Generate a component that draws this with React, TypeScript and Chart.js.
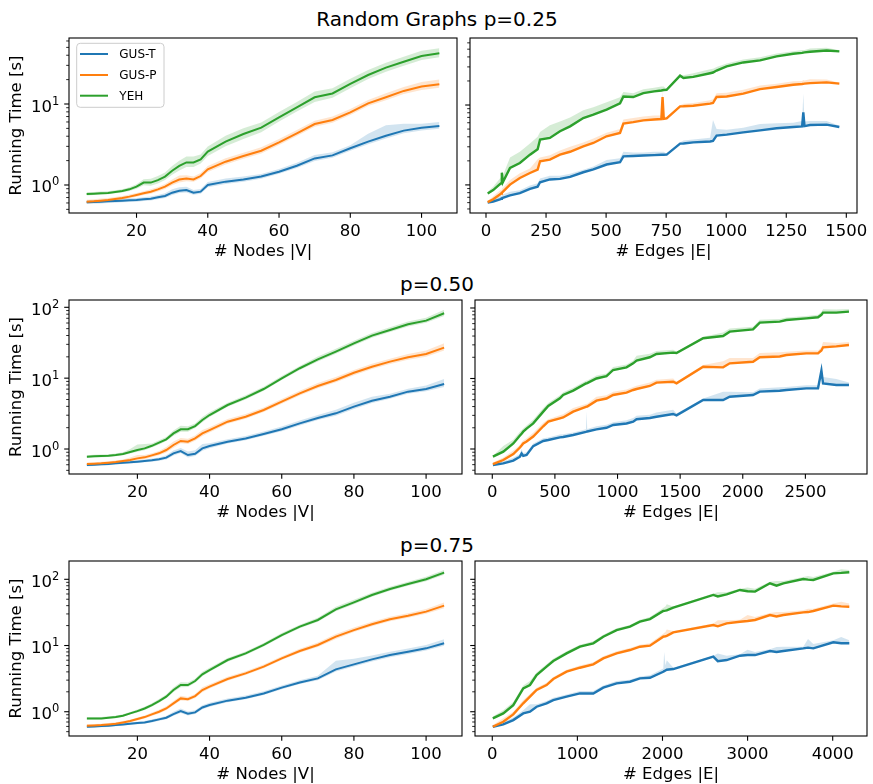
import React, { useEffect, useRef } from "react";
import { Chart, registerables } from "chart.js";

Chart.register(...registerables);

const FONT = "'DejaVu Sans', sans-serif";
const C_T = "#1f77b4";
const C_P = "#ff7f0e";
const C_Y = "#2ca02c";
const B_T = "rgba(31,119,180,0.2)";
const B_P = "rgba(255,127,14,0.2)";
const B_Y = "rgba(44,160,44,0.2)";
const SERIES_NAMES = ["GUS-T", "GUS-P", "YEH"];

// ---------- Node-count panels (x = |V|) ----------
const NODES = [6, 8, 10, 12, 14, 16, 18, 20, 22, 24, 26, 28, 30, 32, 34, 36, 38, 40, 45, 50, 55, 60, 65, 70, 75, 80, 85, 90, 95, 100, 105];

// p = 0.25
const L1_T = [0.611, 0.617, 0.622, 0.628, 0.634, 0.641, 0.647, 0.653, 0.665, 0.678, 0.705, 0.731, 0.803, 0.851, 0.867, 0.803, 0.827, 1.0, 1.1, 1.17, 1.27, 1.46, 1.73, 2.13, 2.32, 2.84, 3.43, 4.06, 4.69, 5.1, 5.35];
const L1_P = [0.622, 0.629, 0.641, 0.653, 0.672, 0.691, 0.718, 0.753, 0.789, 0.827, 0.884, 0.954, 1.07, 1.17, 1.2, 1.17, 1.29, 1.56, 1.94, 2.28, 2.65, 3.36, 4.34, 5.66, 6.35, 7.89, 10.2, 12.1, 14.5, 16.4, 17.5];
const L1_Y = [0.774, 0.782, 0.789, 0.797, 0.82, 0.843, 0.884, 0.954, 1.07, 1.07, 1.15, 1.27, 1.5, 1.72, 1.9, 1.9, 2.07, 2.58, 3.43, 4.26, 5.1, 6.85, 9.1, 12.1, 13.5, 17.7, 22.8, 28.1, 33.3, 39.1, 42.2];
// band widths (percent above / below the mean)
const L1_T_UP = [6, 6, 6, 6, 6, 6, 6, 6, 6, 6, 7, 8, 10, 10, 10, 8, 8, 9, 9, 9, 8, 8, 9, 10, 9, 9, 25, 35, 22, 12, 12];
const L1_T_DN = [5, 5, 5, 5, 5, 5, 5, 5, 5, 5, 6, 6, 7, 7, 7, 6, 6, 7, 7, 7, 6, 6, 7, 8, 7, 7, 8, 8, 8, 8, 8];
const L1_P_UP = [6, 6, 6, 6, 6, 6, 6, 6, 6, 7, 7, 8, 9, 12, 10, 9, 9, 10, 10, 10, 10, 10, 10, 10, 10, 10, 10, 12, 12, 14, 15];
const L1_P_DN = [5, 5, 5, 5, 5, 5, 5, 5, 5, 6, 6, 7, 8, 9, 8, 7, 7, 8, 8, 8, 8, 8, 8, 8, 8, 8, 8, 9, 9, 10, 10];
const L1_Y_UP = [5, 5, 5, 5, 5, 5, 6, 7, 10, 12, 12, 12, 14, 16, 18, 18, 15, 16, 18, 18, 16, 16, 16, 18, 16, 16, 15, 15, 15, 16, 16];
const L1_Y_DN = [4, 4, 4, 4, 4, 4, 5, 6, 8, 9, 10, 10, 12, 14, 14, 14, 12, 13, 14, 15, 14, 13, 13, 14, 13, 13, 12, 12, 12, 12, 12];

// p = 0.50
const L2_T = [0.594, 0.601, 0.608, 0.614, 0.628, 0.641, 0.648, 0.662, 0.677, 0.692, 0.715, 0.755, 0.869, 0.937, 0.823, 0.859, 1.02, 1.1, 1.27, 1.41, 1.63, 1.9, 2.3, 2.74, 3.19, 3.96, 4.81, 5.48, 6.45, 7.03, 8.27];
const L2_P = [0.614, 0.621, 0.628, 0.641, 0.655, 0.677, 0.7, 0.738, 0.763, 0.814, 0.869, 0.968, 1.14, 1.3, 1.27, 1.41, 1.66, 1.85, 2.43, 2.86, 3.55, 4.66, 6.11, 7.75, 9.42, 11.9, 14.5, 17.1, 19.7, 21.9, 27.0];
const L2_Y = [0.779, 0.788, 0.796, 0.805, 0.823, 0.85, 0.907, 0.968, 1.02, 1.11, 1.23, 1.37, 1.66, 1.9, 1.9, 2.11, 2.57, 3.02, 4.18, 5.31, 7.03, 9.95, 13.8, 18.4, 23.7, 31.0, 39.8, 47.9, 57.5, 64.8, 82.3];
const L2_T_UP = [5, 5, 5, 5, 5, 5, 5, 5, 5, 6, 6, 8, 10, 10, 12, 12, 15, 10, 8, 8, 8, 9, 10, 10, 12, 14, 14, 10, 10, 12, 18];
const L2_T_DN = [4, 4, 4, 4, 4, 4, 4, 4, 4, 5, 5, 6, 7, 7, 8, 8, 8, 7, 6, 6, 6, 7, 7, 7, 8, 8, 8, 7, 7, 8, 10];
const L2_P_UP = [5, 5, 5, 5, 5, 5, 8, 12, 8, 7, 8, 10, 12, 10, 10, 10, 12, 10, 9, 9, 9, 9, 9, 10, 10, 10, 10, 10, 11, 12, 15];
const L2_P_DN = [4, 4, 4, 4, 4, 4, 5, 6, 6, 6, 6, 8, 9, 8, 8, 8, 9, 8, 7, 7, 7, 7, 7, 8, 8, 8, 8, 8, 8, 9, 10];
const L2_Y_UP = [5, 5, 5, 5, 5, 6, 10, 20, 15, 8, 8, 8, 10, 12, 10, 9, 10, 9, 8, 8, 8, 8, 8, 10, 10, 9, 9, 9, 10, 10, 12];
const L2_Y_DN = [4, 4, 4, 4, 4, 4, 5, 6, 6, 6, 6, 6, 8, 8, 8, 7, 8, 7, 6, 6, 6, 6, 6, 7, 7, 7, 7, 7, 7, 7, 9];

// p = 0.75
const L3_T = [0.593, 0.6, 0.607, 0.614, 0.629, 0.644, 0.659, 0.674, 0.69, 0.723, 0.766, 0.811, 0.922, 1.02, 0.933, 0.977, 1.16, 1.26, 1.47, 1.63, 1.89, 2.31, 2.77, 3.19, 4.36, 5.19, 6.18, 7.18, 8.07, 9.06, 10.8];
const L3_P = [0.614, 0.621, 0.629, 0.644, 0.659, 0.69, 0.723, 0.775, 0.83, 0.911, 1.0, 1.12, 1.34, 1.59, 1.55, 1.72, 2.13, 2.39, 3.12, 3.8, 4.79, 6.4, 8.26, 10.2, 13.6, 17.1, 20.9, 24.9, 28.2, 32.5, 40.0];
const L3_Y = [0.793, 0.793, 0.793, 0.812, 0.83, 0.87, 0.944, 1.02, 1.12, 1.26, 1.45, 1.69, 2.13, 2.53, 2.53, 2.91, 3.67, 4.26, 6.04, 7.62, 10.2, 14.4, 19.3, 24.3, 35.2, 44.9, 58.0, 71.4, 85.0, 100, 126];
const L3_T_UP = [5, 5, 5, 5, 5, 5, 5, 5, 5, 6, 6, 6, 8, 10, 8, 8, 8, 8, 8, 8, 8, 8, 8, 10, 35, 22, 14, 12, 12, 12, 15];
const L3_T_DN = [4, 4, 4, 4, 4, 4, 4, 4, 4, 5, 5, 5, 6, 7, 6, 6, 6, 6, 6, 6, 6, 6, 6, 7, 8, 8, 8, 8, 8, 8, 9];
const L3_P_UP = [5, 5, 5, 5, 5, 5, 5, 6, 6, 7, 7, 8, 8, 10, 8, 8, 10, 9, 8, 8, 8, 8, 8, 9, 10, 9, 9, 9, 9, 10, 12];
const L3_P_DN = [4, 4, 4, 4, 4, 4, 4, 5, 5, 6, 6, 6, 7, 8, 7, 7, 8, 7, 6, 6, 6, 6, 6, 7, 8, 7, 7, 7, 7, 8, 9];
const L3_Y_UP = [5, 5, 5, 5, 5, 5, 5, 6, 6, 7, 7, 8, 9, 10, 9, 8, 9, 8, 7, 7, 7, 7, 7, 8, 9, 9, 8, 8, 8, 9, 10];
const L3_Y_DN = [4, 4, 4, 4, 4, 4, 4, 5, 5, 6, 6, 6, 7, 8, 7, 6, 7, 6, 6, 6, 6, 6, 6, 6, 7, 7, 6, 6, 6, 7, 8];

// ---------- Edge-count panels (x = |E|) ----------
// p = 0.25
const E1 = [7, 30, 58, 63, 66, 70, 100, 141, 183, 215, 225, 266, 308, 350, 405, 447, 502, 558, 572, 613, 655, 700, 730, 735, 740, 752, 808, 822, 863, 933, 945, 960, 1002, 1071, 1141, 1210, 1279, 1316, 1321, 1326, 1349, 1418, 1471];
const R1_T = [0.6, 0.62, 0.66, 0.67, 0.68, 0.69, 0.74, 0.79, 0.89, 0.95, 1.08, 1.17, 1.19, 1.26, 1.44, 1.56, 1.8, 1.92, 2.28, 2.3, 2.33, 2.36, 2.38, 2.38, 2.38, 2.39, 3.29, 3.3, 3.41, 3.5, 3.55, 4.14, 4.26, 4.55, 4.82, 5.11, 5.31, 5.4, 8.1, 5.45, 5.62, 5.68, 5.31];
const R1_P = [0.61, 0.66, 0.76, 0.78, 0.8, 0.82, 1.01, 1.22, 1.41, 1.55, 1.98, 2.07, 2.39, 2.6, 3.04, 3.35, 4.06, 4.47, 5.84, 6.1, 6.43, 6.6, 6.68, 12.6, 6.7, 6.8, 9.62, 9.65, 9.81, 10.4, 10.6, 12.6, 12.8, 13.9, 15.8, 16.8, 17.9, 18.3, 18.4, 18.5, 18.8, 19.2, 18.5];
const R1_Y = [0.78, 0.86, 1.02, 1.05, 1.42, 1.08, 1.63, 1.88, 2.39, 2.8, 3.69, 3.87, 4.69, 5.41, 6.88, 7.57, 8.74, 10.5, 12.8, 12.6, 14.1, 14.8, 15.2, 15.3, 15.4, 15.5, 23.3, 21.8, 22.5, 25.0, 25.5, 27.0, 30.4, 34.1, 36.2, 40.6, 43.8, 45.0, 45.3, 45.6, 46.4, 48.2, 46.9];
const R1_T_HI = [0.63, 0.66, 0.72, 0.73, 0.74, 0.76, 0.82, 0.86, 0.98, 1.05, 1.2, 1.3, 1.3, 1.38, 1.55, 1.7, 2.05, 2.15, 2.6, 2.55, 2.55, 2.6, 2.6, 2.6, 2.6, 2.45, 3.4, 3.6, 3.7, 3.9, 6.5, 5.0, 4.9, 5.2, 5.8, 5.9, 6.0, 6.3, 13.8, 6.2, 6.3, 6.3, 5.5];
const R1_P_HI = [0.63, 0.72, 0.85, 0.87, 0.9, 0.92, 1.15, 1.4, 1.6, 2.1, 2.2, 2.35, 2.7, 3.0, 3.4, 3.8, 4.5, 5.0, 6.6, 6.9, 7.2, 7.4, 7.4, 15.0, 7.4, 6.95, 9.9, 10.4, 10.6, 11.5, 11.8, 14.0, 14.2, 15.5, 17.5, 18.5, 19.8, 20.0, 20.5, 20.3, 21.0, 20.8, 19.0];
const R1_Y_HI = [0.82, 0.95, 1.2, 1.25, 1.55, 1.3, 2.2, 2.6, 3.3, 4.0, 4.6, 5.6, 6.2, 7.0, 8.6, 9.4, 10.8, 12.5, 14.5, 14.0, 15.8, 16.5, 17.0, 17.0, 17.0, 15.8, 24.0, 23.5, 25.0, 28.0, 28.5, 30.0, 33.0, 37.0, 39.5, 44.0, 47.0, 49.0, 49.0, 49.0, 51.0, 52.0, 48.5];

// p = 0.50
const E2 = [5, 88, 168, 221, 234, 247, 274, 327, 407, 447, 540, 566, 646, 748, 753, 758, 832, 912, 965, 1072, 1125, 1152, 1258, 1311, 1444, 1471, 1684, 1843, 1896, 2082, 2136, 2295, 2348, 2508, 2601, 2628, 2641, 2747, 2848];
const R2_T = [0.593, 0.626, 0.684, 0.778, 0.86, 0.8, 0.822, 1.1, 1.3, 1.34, 1.46, 1.48, 1.58, 1.75, 1.76, 1.77, 1.9, 2.0, 2.19, 2.3, 2.44, 2.64, 2.75, 2.87, 3.14, 3.0, 4.95, 4.95, 5.52, 5.83, 6.51, 6.7, 6.87, 7.25, 7.25, 12.9, 8.54, 8.09, 8.09];
const R2_P = [0.612, 0.698, 0.849, 1.05, 1.12, 1.2, 1.28, 1.5, 2.1, 2.44, 2.72, 2.8, 3.39, 3.95, 3.98, 4.0, 4.85, 5.2, 5.83, 6.3, 6.87, 7.1, 7.83, 8.73, 9.0, 8.54, 14.7, 14.4, 16.4, 17.3, 20.0, 20.5, 21.5, 22.7, 22.7, 25.0, 27.7, 28.5, 29.9];
const R2_Y = [0.778, 0.916, 1.2, 1.55, 1.65, 1.76, 1.95, 2.31, 3.39, 4.07, 5.23, 5.83, 6.72, 8.5, 8.54, 8.6, 10.0, 10.8, 13.2, 14.4, 16.4, 17.9, 20.0, 22.3, 23.3, 23.0, 37.2, 40.1, 46.2, 49.8, 62.0, 64.0, 67.6, 71.3, 73.8, 80.0, 85.9, 85.9, 88.7];
const R2_T_HI = [0.62, 0.67, 0.75, 0.85, 1.0, 0.88, 0.9, 1.2, 1.42, 1.45, 1.6, 1.62, 1.72, 1.9, 3.4, 1.92, 2.1, 2.2, 2.4, 2.55, 2.75, 2.95, 3.05, 3.3, 3.6, 3.2, 5.2, 6.5, 6.5, 6.4, 7.2, 7.5, 7.6, 8.0, 8.0, 14.5, 10.5, 9.8, 8.8];
const R2_P_HI = [0.64, 0.76, 0.95, 1.15, 1.25, 1.32, 1.42, 1.7, 2.35, 2.65, 3.0, 3.1, 3.8, 4.35, 4.4, 4.4, 5.5, 5.8, 6.5, 7.0, 7.6, 7.9, 8.8, 9.6, 10.0, 9.0, 15.5, 17.5, 19.5, 19.5, 23.0, 23.5, 24.0, 25.0, 25.0, 28.0, 33.0, 32.0, 33.0];
const R2_Y_HI = [0.8, 1.1, 1.35, 1.75, 1.85, 1.95, 2.15, 2.6, 3.8, 4.5, 5.8, 6.4, 7.4, 9.3, 9.4, 9.4, 11.0, 11.8, 14.5, 15.8, 18.0, 21.0, 22.5, 24.5, 25.5, 24.0, 39.0, 45.0, 51.0, 54.0, 68.0, 70.0, 73.0, 77.0, 80.0, 88.0, 96.0, 95.0, 97.0];

// p = 0.75
const E3 = [6, 129, 247, 364, 443, 521, 638, 717, 873, 1030, 1187, 1304, 1461, 1618, 1735, 1853, 2009, 2020, 2035, 2050, 2127, 2597, 2650, 2754, 2910, 3000, 3087, 3263, 3340, 3420, 3654, 3710, 3772, 4007, 4100, 4195];
const R3_T = [0.593, 0.644, 0.748, 0.944, 1.0, 1.19, 1.34, 1.5, 1.69, 1.89, 1.89, 2.31, 2.68, 2.84, 3.19, 3.26, 4.02, 4.1, 4.2, 4.3, 4.41, 6.78, 5.8, 6.04, 7.02, 7.2, 7.18, 8.26, 8.0, 8.26, 9.06, 9.3, 9.06, 11.2, 10.8, 10.8];
const R3_P = [0.593, 0.706, 0.911, 1.34, 1.69, 2.13, 2.53, 3.12, 4.02, 4.62, 5.19, 6.4, 7.61, 8.55, 9.6, 9.94, 13.6, 13.7, 13.8, 14.0, 15.8, 20.4, 19.5, 21.6, 22.9, 23.5, 24.3, 28.9, 27.5, 28.9, 31.7, 32.0, 33.2, 40.0, 39.0, 38.6];
const R3_Y = [0.793, 0.944, 1.26, 2.25, 2.53, 3.58, 4.79, 5.83, 7.61, 9.6, 10.8, 13.6, 17.1, 19.3, 22.9, 25.1, 33.2, 33.4, 33.6, 34.0, 37.3, 58.0, 55.0, 59.3, 69.0, 66.0, 65.1, 87.0, 80.0, 87.0, 101, 99, 97.7, 123, 125, 128];
const R3_T_HI = [0.62, 0.7, 0.82, 1.05, 1.3, 1.3, 1.45, 1.62, 1.82, 2.05, 2.05, 2.5, 2.9, 3.05, 3.4, 3.55, 4.5, 8.0, 5.0, 6.0, 4.6, 7.0, 7.6, 7.0, 7.4, 8.6, 8.0, 8.8, 9.5, 9.6, 9.6, 12.5, 10.5, 12.0, 13.5, 12.0];
const R3_P_HI = [0.63, 0.8, 1.0, 1.5, 1.85, 2.3, 2.75, 3.35, 4.3, 5.0, 5.6, 6.9, 8.2, 9.2, 10.3, 10.8, 15.0, 15.5, 16.0, 17.5, 16.5, 21.5, 24.0, 24.0, 24.5, 29.0, 27.0, 31.0, 32.0, 32.0, 34.0, 36.0, 36.0, 43.0, 46.0, 43.0];
const R3_Y_HI = [0.85, 1.05, 1.4, 2.5, 2.9, 3.9, 5.2, 6.3, 8.2, 10.3, 11.6, 14.5, 18.3, 20.5, 24.5, 27.0, 37.0, 38.0, 39.0, 42.0, 39.0, 61.0, 64.0, 64.0, 72.0, 75.0, 72.0, 92.0, 94.0, 94.0, 108, 112, 108, 130, 142, 138];

// ---------- helpers ----------
function pts(xs: number[], ys: number[]) {
  return xs.map((x, i) => ({ x, y: ys[i] }));
}
function scaled(ys: number[], pct: number[], up: boolean) {
  return ys.map((v, i) => (up ? v * (1 + pct[i] / 100) : v / (1 + pct[i] / 100)));
}

function nodeDatasets(
  T: number[], Tu: number[], Td: number[],
  P: number[], Pu: number[], Pd: number[],
  Y: number[], Yu: number[], Yd: number[]
) {
  const list: any[] = [
    [T, Tu, Td, C_T, B_T, 2],
    [P, Pu, Pd, C_P, B_P, 1],
    [Y, Yu, Yd, C_Y, B_Y, 0],
  ];
  const out: any[] = [];
  for (const [m, u, d, c, b, ord] of list) {
    out.push({ data: pts(NODES, scaled(m, u, true)), borderWidth: 0, borderColor: "rgba(0,0,0,0)", backgroundColor: b, pointRadius: 0, fill: false, order: 10 + ord });
    out.push({ data: pts(NODES, scaled(m, d, false)), borderWidth: 0, borderColor: "rgba(0,0,0,0)", backgroundColor: b, pointRadius: 0, fill: "-1", order: 10 + ord });
    out.push({ data: pts(NODES, m), borderWidth: 2, borderColor: c, backgroundColor: c, pointRadius: 0, fill: false, order: ord });
  }
  return out;
}

function edgeDatasets(
  E: number[], T: number[], Th: number[], P: number[], Ph: number[], Y: number[], Yh: number[]
) {
  const list: any[] = [
    [T, Th, C_T, B_T, 2],
    [P, Ph, C_P, B_P, 1],
    [Y, Yh, C_Y, B_Y, 0],
  ];
  const out: any[] = [];
  for (const [m, h, c, b, ord] of list) {
    out.push({ data: pts(E, h), borderWidth: 0, borderColor: "rgba(0,0,0,0)", backgroundColor: b, pointRadius: 0, fill: "+1", order: 10 + ord });
    out.push({ data: pts(E, m), borderWidth: 2.4, borderColor: c, backgroundColor: c, pointRadius: 0, fill: false, order: ord });
  }
  return out;
}

// ---------- axes plugin (matplotlib-like frame, ticks, labels) ----------
const mplAxes = {
  id: "mplAxes",
  afterDraw(chart: any, _args: any, opts: any) {
    const { ctx, chartArea: a, scales } = chart;
    const xs = scales.x;
    const ys = scales.y;
    ctx.save();
    ctx.strokeStyle = "#000";
    ctx.fillStyle = "#000";

    // y ticks (log)
    const lo = ys.min, hi = ys.max;
    for (let e = Math.floor(Math.log10(lo)); e <= Math.ceil(Math.log10(hi)); e++) {
      for (let k = 1; k <= 9; k++) {
        const v = k * Math.pow(10, e);
        if (v < lo || v > hi) continue;
        const py = ys.getPixelForValue(v);
        const major = k === 1;
        ctx.lineWidth = major ? 1.1 : 0.85;
        ctx.beginPath();
        ctx.moveTo(a.left, py);
        ctx.lineTo(a.left - (major ? 4.8 : 2.8), py);
        ctx.stroke();
        if (major && opts.yLabels) {
          const base = "10";
          const sup = String(e);
          ctx.font = `16.5px ${FONT}`;
          const wb = ctx.measureText(base).width;
          ctx.font = `11.5px ${FONT}`;
          const ws = ctx.measureText(sup).width;
          const xr = a.left - 9.6;
          const x0 = xr - ws - wb;
          ctx.textAlign = "left";
          ctx.textBaseline = "alphabetic";
          ctx.font = `16.5px ${FONT}`;
          ctx.fillText(base, x0, py + 7.5);
          ctx.font = `11.5px ${FONT}`;
          ctx.fillText(sup, x0 + wb, py + 0.5);
        }
      }
    }

    // x ticks
    ctx.font = `16.5px ${FONT}`;
    ctx.textAlign = "center";
    ctx.textBaseline = "alphabetic";
    for (const v of opts.xTicks) {
      const px = xs.getPixelForValue(v);
      ctx.lineWidth = 1.1;
      ctx.beginPath();
      ctx.moveTo(px, a.bottom);
      ctx.lineTo(px, a.bottom + 4.8);
      ctx.stroke();
      ctx.fillText(String(v), px, a.bottom + 22.5);
    }

    // frame
    ctx.lineWidth = 1.1;
    ctx.strokeRect(a.left, a.top, a.right - a.left, a.bottom - a.top);

    // axis titles
    ctx.font = `16.5px ${FONT}`;
    ctx.textAlign = "center";
    ctx.fillText(opts.xTitle, (a.left + a.right) / 2, a.bottom + 43);
    if (opts.yTitle) {
      ctx.save();
      ctx.translate(opts.yTitleX, (a.top + a.bottom) / 2);
      ctx.rotate(-Math.PI / 2);
      ctx.fillText(opts.yTitle, 0, 0);
      ctx.restore();
    }

    // legend
    if (opts.legend) {
      const bx = a.left + 7.7, by = a.top + 5.3, bw = 87.3, bh = 64, r = 3.5;
      ctx.beginPath();
      ctx.moveTo(bx + r, by);
      ctx.lineTo(bx + bw - r, by);
      ctx.quadraticCurveTo(bx + bw, by, bx + bw, by + r);
      ctx.lineTo(bx + bw, by + bh - r);
      ctx.quadraticCurveTo(bx + bw, by + bh, bx + bw - r, by + bh);
      ctx.lineTo(bx + r, by + bh);
      ctx.quadraticCurveTo(bx, by + bh, bx, by + bh - r);
      ctx.lineTo(bx, by + r);
      ctx.quadraticCurveTo(bx, by, bx + r, by);
      ctx.closePath();
      ctx.fillStyle = "rgba(255,255,255,0.8)";
      ctx.fill();
      ctx.strokeStyle = "#cccccc";
      ctx.lineWidth = 1;
      ctx.stroke();
      const cols = [C_T, C_P, C_Y];
      const rows = [16, 37, 57.7];
      ctx.font = `12px ${FONT}`;
      ctx.textAlign = "left";
      for (let i = 0; i < 3; i++) {
        const yy = a.top + rows[i];
        ctx.strokeStyle = cols[i];
        ctx.lineWidth = 2;
        ctx.beginPath();
        ctx.moveTo(a.left + 11, yy);
        ctx.lineTo(a.left + 39, yy);
        ctx.stroke();
        ctx.fillStyle = "#000";
        ctx.fillText(SERIES_NAMES[i], a.left + 50.3, yy + 4.4);
      }
    }
    ctx.restore();
  },
};

type PanelProps = {
  left: number; top: number; plotW: number; plotH: number;
  padL: number; padT: number; padR: number; padB: number;
  xMin: number; xMax: number; yMin: number; yMax: number;
  xTicks: number[]; xTitle: string; yLabels: boolean; yTitle?: string; legend?: boolean;
  datasets: any[];
};

function Panel(p: PanelProps) {
  const ref = useRef<HTMLCanvasElement>(null);
  const W = p.padL + p.plotW + p.padR;
  const H = p.padT + p.plotH + p.padB;
  useEffect(() => {
    if (!ref.current) return;
    const chart = new Chart(ref.current, {
      type: "line",
      data: { datasets: p.datasets },
      options: {
        animation: false,
        responsive: false,
        maintainAspectRatio: false,
        layout: { padding: { left: 0, top: p.padT, right: p.padR, bottom: 0 }, autoPadding: false } as any,
        elements: { line: { tension: 0 }, point: { radius: 0 } },
        plugins: {
          legend: { display: false },
          tooltip: { enabled: false },
          mplAxes: {
            xTicks: p.xTicks, xTitle: p.xTitle, yLabels: p.yLabels,
            yTitle: p.yTitle, yTitleX: 21 - p.left, legend: p.legend,
          },
        } as any,
        scales: {
          x: {
            type: "linear", min: p.xMin, max: p.xMax, bounds: "data",
            ticks: { display: false }, grid: { display: false }, border: { display: false },
            afterFit: (s: any) => { s.height = p.padB; },
          },
          y: {
            type: "logarithmic", min: p.yMin, max: p.yMax, bounds: "data",
            ticks: { display: false }, grid: { display: false }, border: { display: false },
            afterFit: (s: any) => { s.width = p.padL; },
          },
        } as any,
      },
      plugins: [mplAxes as any],
    });
    return () => chart.destroy();
  }, []);
  return (
    <canvas
      ref={ref}
      width={W}
      height={H}
      style={{ position: "absolute", left: p.left, top: p.top - p.padT, width: W, height: H }}
    />
  );
}

const titleStyle = (top: number): React.CSSProperties => ({
  position: "absolute", left: 0, width: 874, top, textAlign: "center",
  fontFamily: FONT, fontSize: 20, lineHeight: "20px", color: "#000", whiteSpace: "nowrap",
});

export default function App() {
  const nodeTicks = [20, 40, 60, 80, 100];
  const common = { padT: 4, padB: 48 };
  return (
    <div style={{ position: "fixed", left: 0, top: 0, width: 873, height: 784, background: "#fff", overflow: "hidden" }}>
      <div style={titleStyle(9.4)}>Random Graphs p=0.25</div>
      <div style={titleStyle(273.7)}>p=0.50</div>
      <div style={titleStyle(534.7)}>p=0.75</div>

      {/* Row 1 */}
      <Panel left={0} top={38} plotW={388} plotH={175} padL={69} padR={6} {...common}
        xMin={1.05} xMax={109.95} yMin={0.451} yMax={65.3} xTicks={nodeTicks}
        xTitle="# Nodes |V|" yLabels={true} yTitle="Running Time [s]" legend={true}
        datasets={nodeDatasets(L1_T, L1_T_UP, L1_T_DN, L1_P, L1_P_UP, L1_P_DN, L1_Y, L1_Y_UP, L1_Y_DN)} />
      <Panel left={458} top={38} plotW={387} plotH={175} padL={12} padR={16} {...common}
        xMin={-66.6} xMax={1544.5} yMin={0.445} yMax={69} xTicks={[0, 250, 500, 750, 1000, 1250, 1500]}
        xTitle="# Edges |E|" yLabels={false}
        datasets={edgeDatasets(E1, R1_T, R1_T_HI, R1_P, R1_P_HI, R1_Y, R1_Y_HI)} />

      {/* Row 2 */}
      <Panel left={0} top={300} plotW={393} plotH={174} padL={69} padR={6} {...common}
        xMin={1.05} xMax={109.95} yMin={0.444} yMax={126.8} xTicks={nodeTicks}
        xTitle="# Nodes |V|" yLabels={true} yTitle="Running Time [s]"
        datasets={nodeDatasets(L2_T, L2_T_UP, L2_T_DN, L2_P, L2_P_UP, L2_P_DN, L2_Y, L2_Y_UP, L2_Y_DN)} />
      <Panel left={463} top={300} plotW={392} plotH={174} padL={12} padR={6} {...common}
        xMin={-138} xMax={2992} yMin={0.442} yMax={129.8} xTicks={[0, 500, 1000, 1500, 2000, 2500]}
        xTitle="# Edges |E|" yLabels={false}
        datasets={edgeDatasets(E2, R2_T, R2_T_HI, R2_P, R2_P_HI, R2_Y, R2_Y_HI)} />

      {/* Row 3 */}
      <Panel left={0} top={561} plotW={393} plotH={175} padL={69} padR={6} {...common}
        xMin={1.05} xMax={109.95} yMin={0.43} yMax={189} xTicks={nodeTicks}
        xTitle="# Nodes |V|" yLabels={true} yTitle="Running Time [s]"
        datasets={nodeDatasets(L3_T, L3_T_UP, L3_T_DN, L3_P, L3_P_UP, L3_P_DN, L3_Y, L3_Y_UP, L3_Y_DN)} />
      <Panel left={463} top={561} plotW={392} plotH={175} padL={12} padR={6} {...common}
        xMin={-203} xMax={4403} yMin={0.43} yMax={189} xTicks={[0, 1000, 2000, 3000, 4000]}
        xTitle="# Edges |E|" yLabels={false}
        datasets={edgeDatasets(E3, R3_T, R3_T_HI, R3_P, R3_P_HI, R3_Y, R3_Y_HI)} />
    </div>
  );
}
